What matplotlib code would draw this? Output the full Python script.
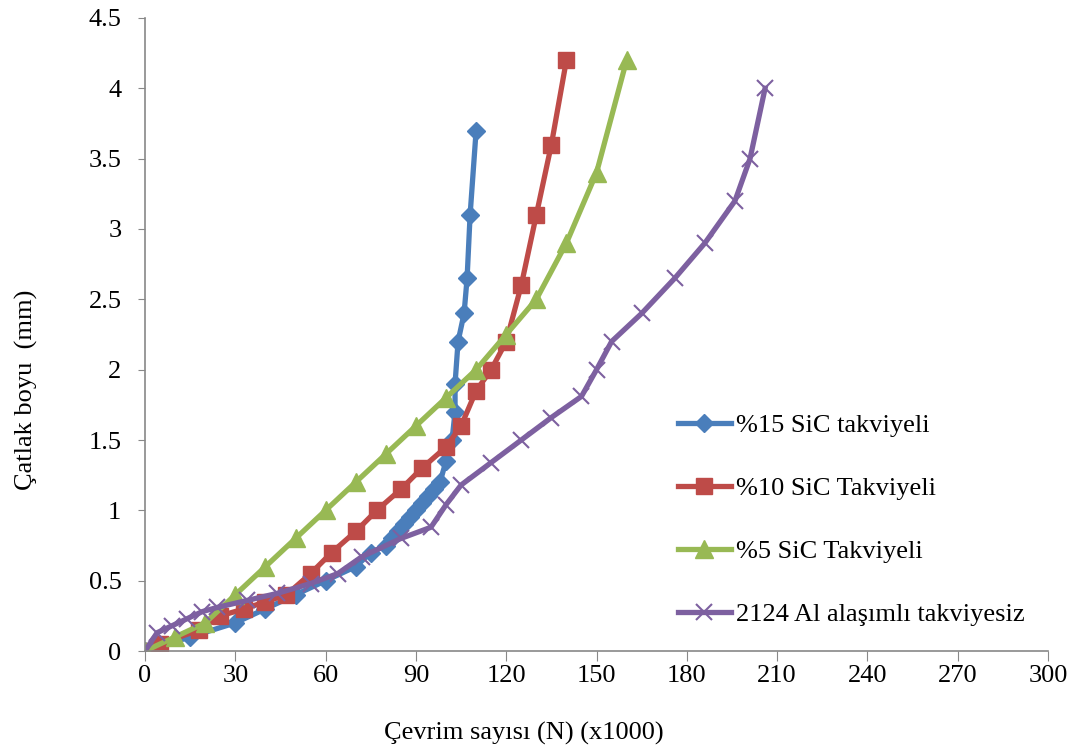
import matplotlib.pyplot as plt

plt.rcParams['font.family'] = ['Liberation Serif', 'DejaVu Serif']

# %15 SiC takviyeli
x15 = [0, 15, 30, 40, 50, 60, 70, 75, 80, 82, 84, 86, 88, 90, 92, 94, 96, 98,
       100, 102, 103, 103, 104, 106, 107, 108, 110]
y15 = [0, 0.1, 0.2, 0.3, 0.4, 0.5, 0.6, 0.7, 0.75, 0.8, 0.85, 0.9, 0.95, 1.0,
       1.05, 1.1, 1.15, 1.2, 1.35, 1.5, 1.7, 1.9, 2.2, 2.4, 2.65, 3.1, 3.7]

# %10 SiC Takviyeli
x10 = [0, 5, 18, 25, 33, 40, 47, 55, 62, 70, 77, 85, 92, 100, 105, 110, 115,
       120, 125, 130, 135, 140]
y10 = [0, 0.05, 0.15, 0.25, 0.3, 0.35, 0.4, 0.55, 0.7, 0.85, 1.0, 1.15, 1.3,
       1.45, 1.6, 1.85, 2.0, 2.2, 2.6, 3.1, 3.6, 4.2]

# %5 SiC Takviyeli
x5 = [0, 10, 20, 30, 40, 50, 60, 70, 80, 90, 100, 110, 120, 130, 140, 150, 160]
y5 = [0, 0.1, 0.2, 0.4, 0.6, 0.8, 1.0, 1.2, 1.4, 1.6, 1.8, 2.0, 2.25, 2.5,
      2.9, 3.4, 4.2]

# 2124 Al alasimli takviyesiz
xal = [0, 4, 9, 14, 19, 24, 34, 44, 55, 64, 72, 85, 95, 100, 105, 115, 125,
       135, 145, 150, 155, 165, 176, 186, 196, 201, 206]
yal = [0, 0.13, 0.18, 0.23, 0.28, 0.31, 0.36, 0.41, 0.48, 0.55, 0.67, 0.8,
       0.88, 1.04, 1.18, 1.34, 1.5, 1.66, 1.81, 2.0, 2.2, 2.4, 2.65, 2.9,
       3.2, 3.5, 4.0]

fig = plt.figure(figsize=(10.79, 7.49), dpi=100)
ax = fig.add_axes([0.1344, 0.1308, 0.8369, 0.8452])

ax.plot(x15, y15, color='#4A7EBB', lw=3.8, marker='D', ms=9,
        label='%15 SiC takviyeli')
ax.plot(x10, y10, color='#BE4B48', lw=3.8, marker='s', ms=11,
        label='%10 SiC Takviyeli')
ax.plot(x5, y5, color='#98B954', lw=3.8, marker='^', ms=13,
        label='%5 SiC Takviyeli')
ax.plot(xal, yal, color='#7D60A0', lw=3.8, marker='x', ms=11, mew=1.5,
        label='2124 Al alaşımlı takviyesiz')

ax.set_xlim(0, 300)
ax.set_ylim(0, 4.5)
ax.set_xticks(range(0, 301, 30))
ax.set_yticks([0, 0.5, 1, 1.5, 2, 2.5, 3, 3.5, 4, 4.5])
ax.set_yticklabels(['0', '0.5', '1', '1.5', '2', '2.5', '3', '3.5', '4', '4.5'])
ax.tick_params(labelsize=19, colors='#888888', labelcolor='black')
ax.tick_params(axis='x', length=7, pad=3)
ax.tick_params(axis='y', length=5, pad=12)
for s in ['top', 'right']:
    ax.spines[s].set_visible(False)
for s in ['left', 'bottom']:
    ax.spines[s].set_color('#888888')
    ax.spines[s].set_linewidth(1.2)

ax.set_xlabel('Çevrim sayısı (N) (x1000)', fontsize=19)
ax.xaxis.set_label_coords(0.419, -0.112)
ax.set_ylabel('Çatlak boyu  (mm)', fontsize=19)
ax.yaxis.set_label_coords(-0.118, 0.412)

ax.legend(loc='center left', bbox_to_anchor=(0.59, 0.207), frameon=False,
          fontsize=19, labelspacing=1.5, handlelength=2.0, handletextpad=0.2,
          borderaxespad=0, borderpad=0)

fig.savefig('out.png', dpi=100)
